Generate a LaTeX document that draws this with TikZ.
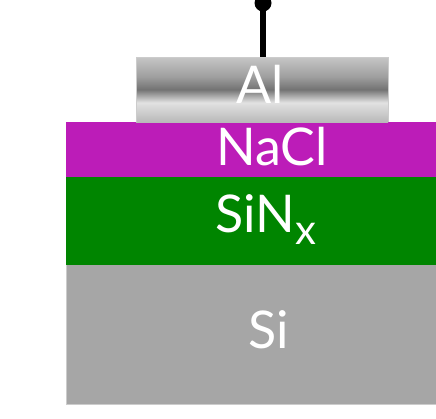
\documentclass[tikz,border=0pt]{standalone}
\usepackage{fontspec}
\setmainfont{Lato}
\pgfdeclareverticalshading{metal}{100bp}{
  color(0bp)=(gray!30);
  color(10bp)=(gray!35);
  color(25bp)=(gray!55);
  color(40bp)=(gray!85!black!20);
  color(50bp)=(gray!110);
  color(60bp)=(gray!75);
  color(75bp)=(gray!45);
  color(90bp)=(gray!30);
  color(100bp)=(gray!20)}
\definecolor{nacl}{HTML}{BC1CB8}
\definecolor{sinx}{HTML}{008500}
\definecolor{sicol}{HTML}{A6A6A6}
\tikzset{
  layertext/.style={text=white, anchor=base, inner sep=0pt, font=\fontsize{52}{52}\selectfont},
}
\begin{document}
\begin{tikzpicture}[x=1pt,y=-1pt]
\useasboundingbox (0,0) rectangle (436,418);
\fill[sicol] (66,265) rectangle (470,404);
\draw[gray!40, line width=0.8pt] (66,265) -- (66,404) -- (470,404);
\fill[sinx] (66,177) rectangle (470,265);
\fill[nacl] (66,122) rectangle (470,177);
\shade[shading=metal] (136,57) rectangle (388,122);
\draw[gray!40, line width=0.8pt] (136,122) -- (136,57) -- (388,57) -- (388,122);
\coordinate (altop) at (263,57);
\node[circle, fill=black, inner sep=0pt, minimum size=17pt] (dot) at (263,3) {};
\draw[line width=6pt] (dot.center) -- (altop);
\node[layertext] (al) at (260,103) {Al};
\node[layertext] (nacl) at (272,165) {NaCl};
\node[layertext] (sinx) at (266,232) {SiN\raisebox{-12pt}{\fontsize{42}{42}\selectfont x}};
\node[layertext] (si) at (269,348) {Si};
\end{tikzpicture}
\end{document}
